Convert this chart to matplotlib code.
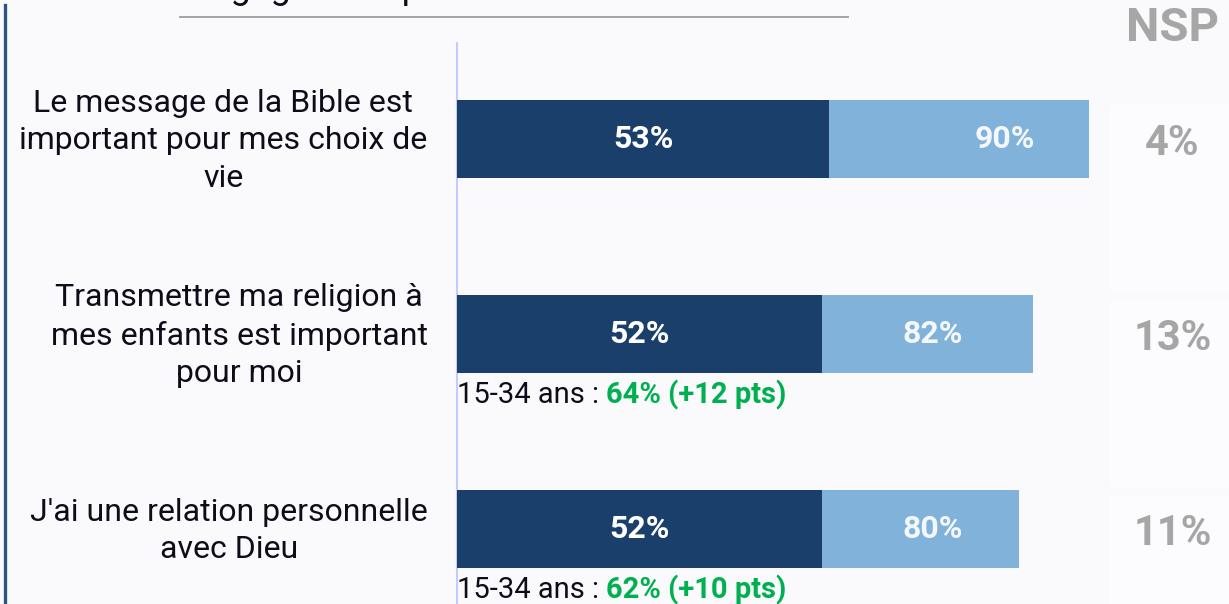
import matplotlib.pyplot as plt
from matplotlib.patches import Rectangle
from matplotlib.lines import Line2D

plt.rcParams['font.family'] = ['Roboto', 'DejaVu Sans']

# data
categories = [
    "Le message de la Bible est\nimportant pour mes choix de\nvie",
    "Transmettre ma religion à\nmes enfants est important\npour moi",
    "J'ai une relation personnelle\navec Dieu",
]
tout_a_fait = [53, 52, 52]      # dark part
total_accord = [90, 82, 80]     # light bar (total)
nsp = [4, 13, 11]
young_note = [None, "64% (+12 pts)", "62% (+10 pts)"]
title = "Engagement personnel et transmission"

DARK = '#1b3f6b'
LIGHT = '#80b2da'
GREY = '#a6a6a6'
GREEN = '#00b050'
BG = '#fafafc'

W, H = 1229, 604
px_per_pct = 7.02
fig = plt.figure(figsize=(W / 100, H / 100), dpi=100, facecolor=BG)
ax = fig.add_axes([457 / W, 0, (W - 457) / W, 1])
ax.set_facecolor(BG)
ax.set_xlim(0, (W - 457) / px_per_pct)
ax.set_ylim(2.385, -0.713)
ax.axis('off')

y = list(range(len(categories)))
bar_h = 0.40

# faint boxes behind the NSP column
box_x = (1110 - 457) / px_per_pct
for i in y:
    ax.add_patch(Rectangle((box_x, i - 0.175), 30, 0.96, facecolor='#fcfcfe',
                           edgecolor='none', zorder=0))

ax.barh(y, total_accord, height=bar_h, color=LIGHT, zorder=2)
ax.barh(y, tout_a_fait, height=bar_h, color=DARK, zorder=3)

# vertical axis line
ax.vlines(0, -0.50, 2.385, color='#c3cdfa', lw=1.5, zorder=1, clip_on=False)

light_label_x = [78.0, 67.7, 67.8]
for i in y:
    ax.text(tout_a_fait[i] / 2, i, f"{tout_a_fait[i]}%", color='white',
            fontsize=23, fontweight='bold', ha='center', va='center', zorder=4)
    ax.text(light_label_x[i], i, f"{total_accord[i]}%", color='#f4f7fb',
            fontsize=23, fontweight='bold', ha='center', va='center', zorder=4)
    ax.text(-4.2, i + 0.01, categories[i], fontsize=23, color='#0d0d1a', ha='right',
            va='center', multialignment='center', linespacing=1.36, clip_on=False)
    ax.text(101.9, i + 0.025, f"{nsp[i]}%", color=GREY, fontsize=30,
            fontweight='bold', ha='center', va='center')
    if young_note[i]:
        t1 = ax.text(0, i + 0.315, "15-34 ans : ", fontsize=21, color='#0d0d1a',
                     ha='left', va='center', clip_on=False)
        ax.annotate(young_note[i], xy=(1, 0.5), xycoords=t1, fontsize=21,
                    color=GREEN, fontweight='bold', ha='left', va='center',
                    annotation_clip=False)

ax.text(101.9, -0.569, "NSP", color=GREY, fontsize=34, fontweight='bold',
        ha='center', va='center')

# clipped title and rule at the top, accent bar at the left
fig.text(190 / W, 1 + 2 / H, title, fontsize=26, color='#0d0d1a',
         ha='left', va='baseline')
fig.add_artist(Line2D([180 / W, 848 / W], [1 - 17 / H, 1 - 17 / H],
                      color='#9c9c9c', lw=1.3))
fig.add_artist(Line2D([4.5 / W, 4.5 / W], [0, 1 - 5 / H],
                      color='#2a5582', lw=2.4))

fig.savefig('out.png', dpi=100, facecolor=fig.get_facecolor())
